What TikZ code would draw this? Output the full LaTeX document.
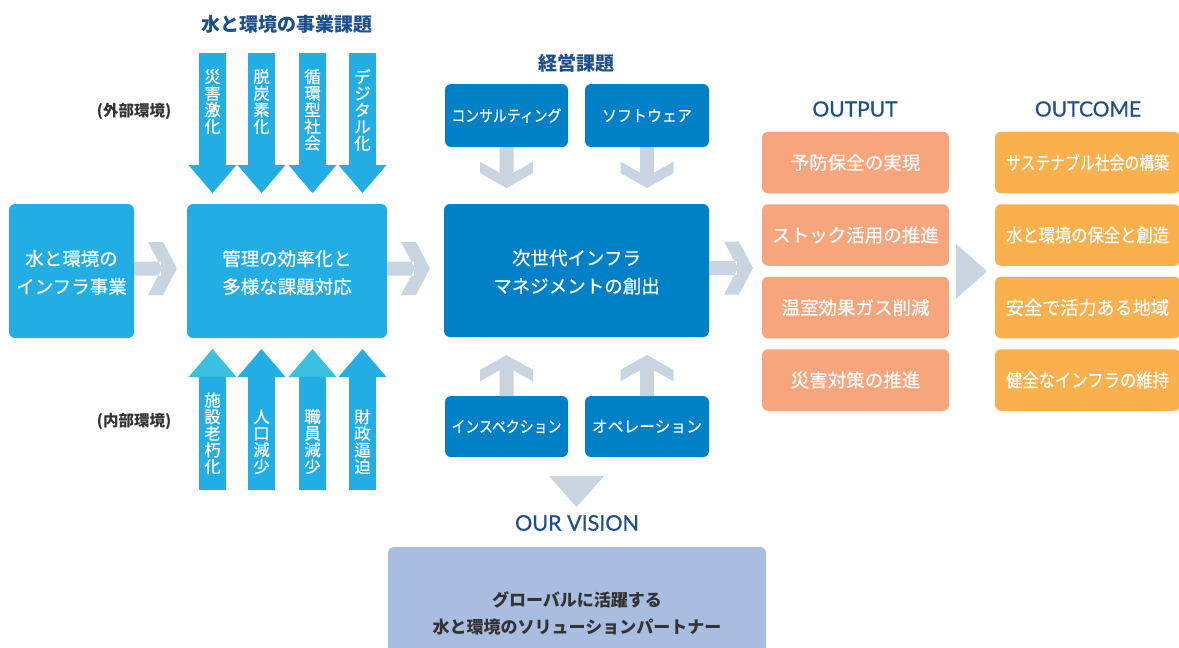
\documentclass[tikz,border=0pt]{standalone}
\usepackage{fontspec}
\usepackage{graphicx}
\setmainfont{Noto Sans CJK JP}
\newfontfamily\jpmed{Noto Sans CJK JP}[FakeBold=0.5]
\newfontfamily\latinfont{Lato}[FakeBold=0.6]
\usetikzlibrary{calc}
\definecolor{cyanbox}{HTML}{22AEE4}
\definecolor{cyanhead}{HTML}{3AC0DE}
\definecolor{bluebox}{HTML}{0080C6}
\definecolor{arrowgray}{HTML}{C8D4DF}
\definecolor{salmon}{HTML}{F6A57D}
\definecolor{orangebox}{HTML}{FAB04C}
\definecolor{visionbox}{HTML}{A8BDDF}
\definecolor{navy}{HTML}{1E4F8A}
\definecolor{darkgray}{HTML}{333333}

% gray down arrow hanging from the south of a node
\newcommand\graydown[1]{%
 \fill[arrowgray] let \p1=(#1.south) in
 (\x1-7pt,\y1) -- (\x1+7pt,\y1) -- (\x1+7pt,\y1-25.7pt) -- (\x1+26.5pt,\y1-14.7pt)
 -- (\x1+26.5pt,\y1-26pt) -- (\x1,\y1-41pt) -- (\x1-26.5pt,\y1-26pt)
 -- (\x1-26.5pt,\y1-14.7pt) -- (\x1-7pt,\y1-25.7pt) -- cycle;}
% gray up arrow rising from the north of a node
\newcommand\grayup[1]{%
 \fill[arrowgray] let \p1=(#1.north) in
 (\x1-7pt,\y1) -- (\x1+7pt,\y1) -- (\x1+7pt,\y1+25.7pt) -- (\x1+26.5pt,\y1+14.7pt)
 -- (\x1+26.5pt,\y1+26pt) -- (\x1,\y1+41pt) -- (\x1-26.5pt,\y1+26pt)
 -- (\x1-26.5pt,\y1+14.7pt) -- (\x1-7pt,\y1+25.7pt) -- cycle;}
% horizontal chevron arrow from #1 to #2, tip #3 before #2
\newcommand\hchev[3]{%
 \fill[arrowgray] let \p1=(#1.east), \p2=(#2.west) in
 (\x1,\y1+9.5pt) rectangle (\x2-#3-16pt,\y1-4.5pt)
 (\x2-#3-29pt,\y1+29pt) -- (\x2-#3-14pt,\y1+29pt) -- (\x2-#3,\y1+2.5pt)
 -- (\x2-#3-14pt,\y1-24pt) -- (\x2-#3-29pt,\y1-24pt) -- (\x2-#3-15pt,\y1+2.5pt) -- cycle;}
% cyan arrows of the environment
\newcommand\cyandown[1]{%
 \fill[cyanbox] (#1-13.5,53) rectangle (#1+13.5,166);
 \fill[cyanbox] (#1-24,165) -- (#1+24,165) -- (#1,193) -- cycle;}
\newcommand\cyanup[2]{%
 \fill[cyanbox] (#1-13.5,376) rectangle (#1+13.5,490);
 \fill[#2] (#1-24,377) -- (#1+24,377) -- (#1,349) -- cycle;}

\begin{document}
\begin{tikzpicture}[x=1pt,y=-1pt,
  every node/.style={inner sep=0pt, outer sep=0pt},
  boxtxt/.style={text=white, align=center, font=\jpmed\fontsize{18.5}{28}\selectfont},
  smalltxt/.style={text=white, align=center, font=\jpmed\fontsize{16}{16}\selectfont},
  vtxt/.style={text=white, align=center, font=\jpmed\fontsize{16.5}{16.6}\selectfont},
  headjp/.style={text=navy, font=\fontsize{19}{19}\selectfont\bfseries},
  headen/.style={text=navy, font=\latinfont\fontsize{21}{21}\selectfont},
  envlabel/.style={text=darkgray, font=\fontsize{15.5}{15.5}\selectfont\bfseries},
  cbox/.style={fill=cyanbox, rounded corners=6pt},
  bbox/.style={fill=bluebox, rounded corners=6pt},
  obox/.style={fill=salmon, rounded corners=6pt, minimum width=187pt, minimum height=61.5pt},
  ocbox/.style={fill=orangebox, rounded corners=6pt, minimum width=185pt, minimum height=61.5pt},
]
\useasboundingbox (0,0) rectangle (1179,648);
\fill[white] (0,0) rectangle (1179,648);

% headings
\node[headjp] (title1) at (286.5,24.5) {水と環境の事業課題};
\node[headjp] (title2) at (576,63.5) {経営課題};
\node[headen] (hout) at (855,109) {OUTPUT};
\node[headen] (hoc) at (1088,109) {OUTCOME};
\node[envlabel] (ext) at (134,111) {(外部環境)};
\node[envlabel] (int) at (134,421.5) {(内部環境)};

% main boxes
\node[cbox, minimum width=125pt, minimum height=134pt] (left) at (71.5,271) {};
\node[boxtxt] (lefttxt) at (71.5,272.5) {水と環境の\\インフラ事業};
\node[cbox, minimum width=200pt, minimum height=134pt] (mid) at (287,271) {};
\node[boxtxt] (midtxt) at (287,272.5) {管理の効率化と\\多様な課題対応};
\node[bbox, minimum width=265pt, minimum height=133pt] (center) at (576.5,270.5) {};
\node[boxtxt] (centertxt) at (576.5,272) {次世代インフラ\\マネジメントの創出};

% small blue boxes
\node[bbox, minimum width=123pt, minimum height=63pt, smalltxt] (consult) at (506.5,115.5) {\resizebox{110pt}{\height}{コンサルティング}};
\node[bbox, minimum width=124pt, minimum height=63pt, smalltxt] (soft) at (647,115.5) {\resizebox{90pt}{\height}{ソフトウェア}};
\node[bbox, minimum width=123pt, minimum height=61pt, smalltxt] (insp) at (506.5,426.5) {\resizebox{110pt}{\height}{インスペクション}};
\node[bbox, minimum width=124pt, minimum height=61pt, smalltxt] (oper) at (647,426.5) {\resizebox{110pt}{\height}{オペレーション}};

\graydown{consult}
\graydown{soft}
\grayup{insp}
\grayup{oper}

% outputs
\node[obox, boxtxt] (out1) at (855.5,162.5) {予防保全の実現};
\node[obox, boxtxt] (out2) at (855.5,235) {ストック活用の推進};
\node[obox, boxtxt] (out3) at (855.5,307.5) {温室効果ガス削減};
\node[obox, boxtxt] (out4) at (855.5,380) {災害対策の推進};

% outcomes
\node[ocbox, boxtxt] (oc1) at (1087.5,162.5) {\resizebox{163pt}{\height}{サステナブル社会の構築}};
\node[ocbox, boxtxt] (oc2) at (1087.5,235) {\resizebox{163pt}{\height}{水と環境の保全と創造}};
\node[ocbox, boxtxt] (oc3) at (1087.5,307.5) {\resizebox{163pt}{\height}{安全で活力ある地域}};
\node[ocbox, boxtxt] (oc4) at (1087.5,380) {\resizebox{163pt}{\height}{健全なインフラの維持}};

% chevrons
\hchev{left}{mid}{10pt}
\hchev{mid}{center}{14pt}
\hchev{center}{out2}{9pt}

% environment arrows
\cyandown{212.5}\cyandown{261.5}\cyandown{312.5}\cyandown{362.5}
\cyanup{212.5}{cyanhead}\cyanup{261.5}{cyanbox}\cyanup{312.5}{cyanhead}\cyanup{362.5}{cyanbox}
\node[vtxt, anchor=north] (e1) at (212.5,69) {災\\害\\激\\化};
\node[vtxt, anchor=north] (e2) at (261.5,69) {脱\\炭\\素\\化};
\node[vtxt, anchor=north] (e3) at (312.5,69) {循\\環\\型\\社\\会};
\node[vtxt, anchor=north] (e4) at (362.5,69) {デ\\ジ\\タ\\ル\\化};
\node[vtxt, anchor=south] (i1) at (212.5,474) {施\\設\\老\\朽\\化};
\node[vtxt, anchor=south] (i2) at (261.5,474) {人\\口\\減\\少};
\node[vtxt, anchor=south] (i3) at (312.5,474) {職\\員\\減\\少};
\node[vtxt, anchor=south] (i4) at (362.5,474) {財\\政\\逼\\迫};

% triangle output -> outcome
\fill[arrowgray] let \p1=($(out2.east)!0.5!(out3.east)$), \p2=(oc2.west) in
  (\x1+7pt,\y1+27.5pt) -- (\x2-8pt,\y1) -- (\x1+7pt,\y1-27.5pt) -- cycle;

% vision
\fill[arrowgray] let \p1=(center.south), \p2=(insp.south) in
  (\x1-27.5pt,\y2-19pt) -- (\x1+27.5pt,\y2-19pt) -- (\x1,\y2-50pt) -- cycle;
\node[headen, font=\latinfont\fontsize{21.5}{21.5}\selectfont] (vision) at (577,523) {OUR VISION};
\node[fill=visionbox, rounded corners=6pt, minimum width=378pt, minimum height=113pt] (vbox) at (577,603.5) {};
\node[text=darkgray, align=center, font=\fontsize{17}{27}\selectfont\bfseries] (vtext) at (577,613) {グローバルに活躍する\\水と環境のソリューションパートナー};
\end{tikzpicture}
\end{document}
